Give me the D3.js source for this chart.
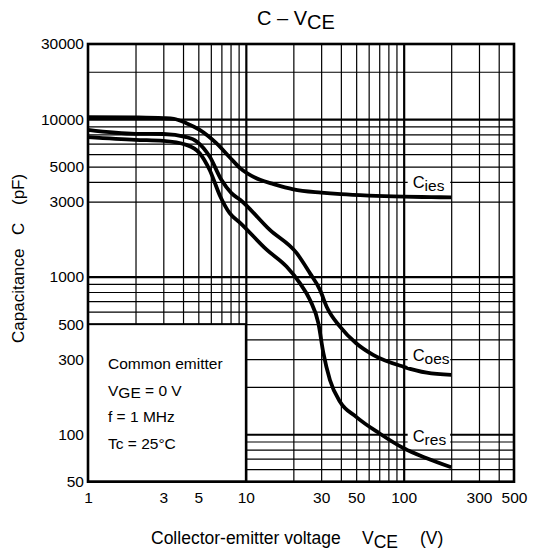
<!DOCTYPE html>
<html><head><meta charset="utf-8">
<script src="https://cdn.jsdelivr.net/npm/d3@7"></script>
<style>
body{margin:0;background:#fff;}
svg{display:block;font-family:"Liberation Sans",Arial,Helvetica,sans-serif;fill:#000;}
</style></head><body>
<svg id="chart" width="534" height="553"></svg>
<script>
// Input, output and reverse transfer capacitance vs. collector-emitter voltage
const ciesV = [1, 2, 3, 3.5, 4.2, 5.1, 6.5, 8, 9.2, 12.3, 15, 20, 30, 40, 60, 100, 150, 200];
const ciesC = [10300, 10250, 10150, 10050, 9430, 8550, 7040, 5650, 4890, 4120, 3870, 3590, 3420, 3340, 3270, 3220, 3200, 3190];

const coesV = [1, 2, 3, 4.2, 4.9, 5.9, 7, 8.1, 9.2, 14.2, 21, 25.5, 29.5, 32.5, 39.5, 50, 64, 100, 140, 200];
const coesC = [8550, 8070, 8050, 7690, 7200, 5790, 4120, 3390, 3080, 1980, 1410, 1050, 825, 645, 482, 378, 319, 268, 246, 238];

const cresV = [1, 2, 3, 4.2, 5.1, 5.9, 6.9, 7.9, 9.2, 13.6, 18.1, 22, 25.5, 28.8, 31, 34.1, 39.5, 50, 70, 100, 140, 200];
const cresC = [7690, 7390, 7290, 6870, 6080, 4760, 3220, 2530, 2200, 1480, 1160, 910, 712, 507, 327, 221, 161, 129, 101.5, 81.5, 70.4, 61.7];

const seriesNames = ["ies", "oes", "res"];
// where each curve name sits (voltage, capacitance of the label baseline)
const labelAt = [[100, 3650], [100, 292], [100, 89]];

const xTickLabels = [1, 3, 5, 10, 30, 50, 100, 300, 500];
const yTickLabels = [50, 100, 300, 500, 1000, 3000, 5000, 10000, 30000];
const xGrid = [2, 3, 4, 5, 6, 7, 8, 9, 10, 20, 30, 40, 50, 60, 70, 80, 90, 100, 200, 300, 400];
const yGrid = [60, 70, 80, 90, 100, 200, 300, 400, 500, 600, 700, 800, 900, 1000,
               3000, 4000, 5000, 6000, 7000, 8000, 9000, 10000, 20000];
const majorX = [10, 100];
const majorY = [100, 1000, 10000];

const conditions = [["Common emitter"], ["V", "GE", " = 0 V"], ["f = 1 MHz"], ["Tc = 25°C"]];

const svg = d3.select("#chart");
const L = 88, R = 514, T = 44, B = 481.7;
const x = d3.scaleLog().domain([1, 500]).range([L, R]);
const y = d3.scaleLog().domain([50, 30000]).range([B, T]);

// grid
const gx = svg.append("g").attr("transform", `translate(0,${B})`)
  .call(d3.axisBottom(x).tickValues(xGrid).tickSize(-(B - T)).tickFormat(""));
gx.select(".domain").remove();
gx.selectAll("line").attr("stroke", "#000")
  .attr("stroke-width", d => majorX.includes(d) ? 2.2 : 1.2);

const gy = svg.append("g").attr("transform", `translate(${L},0)`)
  .call(d3.axisLeft(y).tickValues(yGrid).tickSize(-(R - L)).tickFormat(""));
gy.select(".domain").remove();
gy.selectAll("line").attr("stroke", "#000")
  .attr("stroke-width", d => majorY.includes(d) ? 2.2 : 1.2);

// conditions box in the lower-left corner
svg.append("rect")
  .attr("x", x(1)).attr("y", y(500))
  .attr("width", x(10) - x(1)).attr("height", y(50) - y(500))
  .attr("fill", "#fff").attr("stroke", "#000").attr("stroke-width", 2);

const cond = svg.append("g").attr("font-size", 15.5);
conditions.forEach((parts, i) => {
  const t = cond.append("text").attr("x", 108).attr("y", 369 + i * 26.7);
  if (parts.length === 1) t.text(parts[0]);
  else {
    t.append("tspan").text(parts[0]);
    t.append("tspan").attr("dy", 2).text(parts[1]);
    t.append("tspan").attr("dy", -2).text(parts[2]);
  }
});

// curves
const series = [
  ciesV.map((v, i) => ({v, c: ciesC[i]})),
  coesV.map((v, i) => ({v, c: coesC[i]})),
  cresV.map((v, i) => ({v, c: cresC[i]}))
];
const line = d3.line().x(d => x(d.v)).y(d => y(d.c)).curve(d3.curveMonotoneX);
svg.append("g").selectAll("path").data(series).join("path")
  .attr("d", line).attr("fill", "none").attr("stroke", "#000")
  .attr("stroke-width", 3.8).attr("stroke-linejoin", "round");

// curve names on white patches
const lab = svg.append("g");
seriesNames.forEach((s, i) => {
  const g = lab.append("g");
  const bx = g.append("rect").attr("fill", "#fff");
  const t = g.append("text").attr("x", x(labelAt[i][0]) + 9).attr("y", y(labelAt[i][1]));
  t.append("tspan").attr("font-size", 16.5).text("C");
  t.append("tspan").attr("dy", 3).attr("font-size", 15.5).text(s);
  const bb = t.node().getBBox();
  bx.attr("x", bb.x - 5).attr("y", bb.y).attr("width", x(200) - bb.x + 4).attr("height", bb.height);
});

// frame
svg.append("rect").attr("x", L).attr("y", T).attr("width", R - L).attr("height", B - T)
  .attr("fill", "none").attr("stroke", "#000").attr("stroke-width", 2.6);

// tick labels
const ax = svg.append("g").attr("transform", `translate(0,${B})`)
  .call(d3.axisBottom(x).tickValues(xTickLabels).tickSize(0).tickPadding(10).tickFormat(d3.format("d")));
ax.select(".domain").remove();
ax.selectAll("text").attr("font-size", 15.5).attr("font-family", null).attr("fill", "#000");

const ay = svg.append("g").attr("transform", `translate(${L},0)`)
  .call(d3.axisLeft(y).tickValues(yTickLabels).tickSize(0).tickPadding(4).tickFormat(d3.format("d")));
ay.select(".domain").remove();
ay.selectAll("text").attr("font-size", 15.5).attr("font-family", null).attr("fill", "#000");

// title
const title = svg.append("text").attr("y", 25).attr("font-size", 20);
title.append("tspan").attr("x", 257).text("C – V");
title.append("tspan").attr("dy", 4).text("CE");

// axis titles
const xt = svg.append("text").attr("y", 544).attr("font-size", 17.5);
xt.append("tspan").attr("x", 151).text("Collector-emitter voltage");
xt.append("tspan").attr("x", 362).text("V");
xt.append("tspan").attr("dy", 4).text("CE");
xt.append("tspan").attr("x", 420).attr("dy", -4).text("(V)");

const yt = svg.append("text").attr("transform", "rotate(-90)").attr("y", 24).attr("font-size", 17);
yt.append("tspan").attr("x", -343).text("Capacitance");
yt.append("tspan").attr("x", -235).text("C");
yt.append("tspan").attr("x", -205).text("(pF)");
</script>
</body></html>
